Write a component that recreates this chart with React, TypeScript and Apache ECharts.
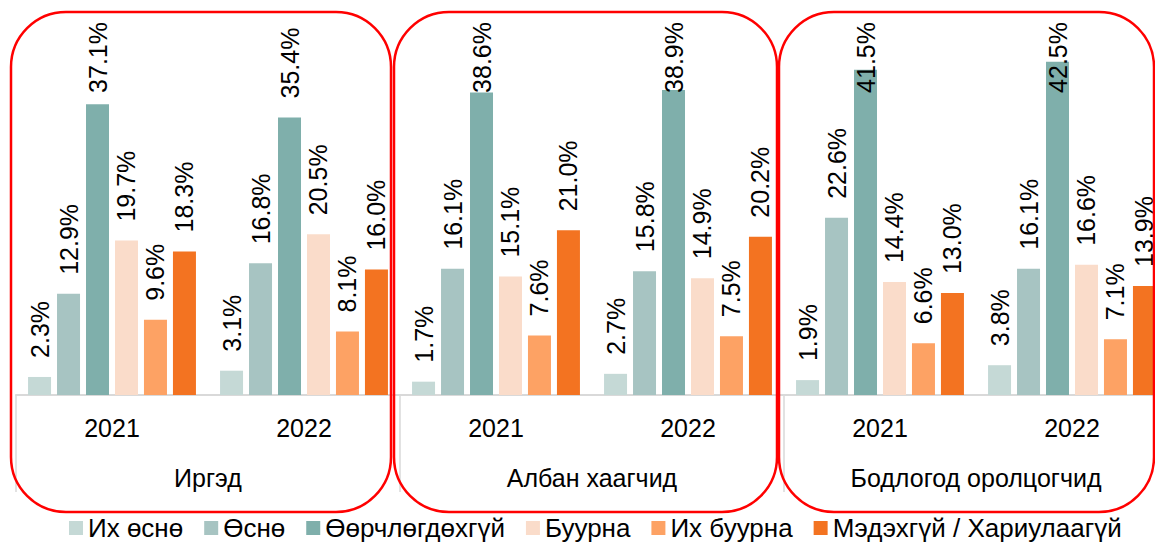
import React, { useEffect, useRef } from "react";
import * as echarts from "echarts";

const years = ["2021", "2022", "2021", "2022", "2021", "2022"];
const groups = ["Иргэд", "Албан хаагчид", "Бодлогод оролцогчид"];
const seriesNames = [
  "Их өснө",
  "Өснө",
  "Өөрчлөгдөхгүй",
  "Буурна",
  "Их буурна",
  "Мэдэхгүй / Хариулаагүй",
];
const ihOsno = [2.3, 3.1, 1.7, 2.7, 1.9, 3.8];
const osno = [12.9, 16.8, 16.1, 15.8, 22.6, 16.1];
const oorchlogdohgui = [37.1, 35.4, 38.6, 38.9, 41.5, 42.5];
const buurna = [19.7, 20.5, 15.1, 14.9, 14.4, 16.6];
const ihBuurna = [9.6, 8.1, 7.6, 7.5, 6.6, 7.1];
const medehgui = [18.3, 16.0, 21.0, 20.2, 13.0, 13.9];
const seriesValues = [ihOsno, osno, oorchlogdohgui, buurna, ihBuurna, medehgui];
const colors = ["#C5D9D6", "#A7C4C2", "#7FAFAB", "#FADCCA", "#FDA264", "#F37321"];

const FONT = "'Liberation Sans', Arial, sans-serif";

export default function App() {
  const ref = useRef<HTMLDivElement>(null);
  useEffect(() => {
    if (!ref.current) return;
    const chart = echarts.init(ref.current, undefined, { renderer: "svg" });
    const gridGeom = {
      left: 16,
      width: 1152,
      top: 3,
      height: 392,
      containLabel: false,
      outerBoundsMode: "none",
    };
    const option: any = {
      animation: false,
      textStyle: { fontFamily: FONT },
      color: colors,
      grid: [{ ...gridGeom }, { ...gridGeom }],
      legend: {
        left: 64,
        top: 510,
        icon: "rect",
        itemWidth: 14,
        itemHeight: 14,
        itemGap: 21,
        textStyle: { fontSize: 26, color: "#000", fontFamily: FONT },
        data: seriesNames,
      },
      xAxis: [
        {
          type: "category",
          gridIndex: 0,
          data: years,
          axisLine: { show: true, lineStyle: { color: "#D9D9D9", width: 2 } },
          axisTick: { show: false },
          axisLabel: { fontSize: 25, color: "#000", margin: 20, fontFamily: FONT },
        },
        {
          type: "category",
          gridIndex: 1,
          data: groups,
          position: "bottom",
          axisLine: { show: false },
          axisTick: { show: true, length: 97, lineStyle: { color: "#D9D9D9", width: 1.5 } },
          axisLabel: { fontSize: 25, color: "#000", margin: 70, fontFamily: FONT },
        },
      ],
      yAxis: [
        { type: "value", gridIndex: 0, min: 0, max: 50, show: false },
        { type: "value", gridIndex: 1, min: 0, max: 50, show: false },
      ],
      series: seriesNames.map((name, i) => ({
        name,
        type: "bar",
        xAxisIndex: 0,
        yAxisIndex: 0,
        data: seriesValues[i],
        barWidth: 23,
        barGap: "26%",
        itemStyle: { color: colors[i] },
        label: {
          show: true,
          position: "top",
          rotate: 90,
          align: "left",
          verticalAlign: "middle",
          distance: 19,
          fontSize: 25,
          color: "#000",
          fontFamily: FONT,
          formatter: (p: any) => p.value.toFixed(1) + "%",
        },
        labelLayout: (p: any) => {
          const r = p.labelRect;
          if (r && r.y < 22) {
            return { y: 22 + r.height };
          }
          return {};
        },
      })),
      graphic: [
        { type: "rect", z: 100, shape: { x: 11, y: 12, width: 380, height: 500, r: 55 }, style: { fill: "none", stroke: "#FF0000", lineWidth: 2.5 } },
        { type: "rect", z: 100, shape: { x: 394, y: 12, width: 383, height: 500, r: 55 }, style: { fill: "none", stroke: "#FF0000", lineWidth: 2.5 } },
        { type: "rect", z: 100, shape: { x: 779, y: 12, width: 375, height: 500, r: 55 }, style: { fill: "none", stroke: "#FF0000", lineWidth: 2.5 } },
      ],
    };
    chart.setOption(option);
    return () => chart.dispose();
  }, []);
  return (
    <div
      ref={ref}
      style={{ position: "fixed", left: 0, top: 0, width: 1155, height: 542, background: "#fff" }}
    />
  );
}
